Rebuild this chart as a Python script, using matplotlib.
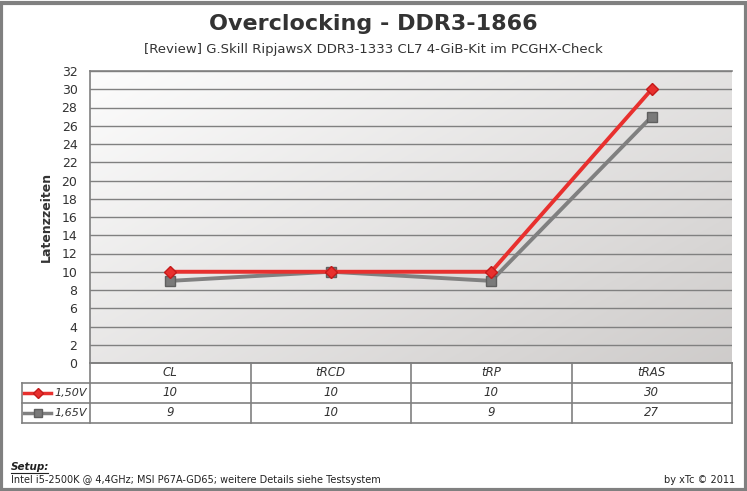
import matplotlib
matplotlib.use('Agg')
import matplotlib.pyplot as plt
import numpy as np
from matplotlib.lines import Line2D
from matplotlib.patches import Rectangle

categories = ['CL', 'tRCD', 'tRP', 'tRAS']
series_names = ['1,50V', '1,65V']
v150 = [10, 10, 10, 30]
v165 = [9, 10, 9, 27]
yticks = list(range(0, 33, 2))

W, H = 747, 491
fig = plt.figure(figsize=(W / 100, H / 100), dpi=100)
fig.patch.set_facecolor('white')

def fx(px):
    return px / W

def fy(py):
    return 1 - py / H

# outer frame
fig.add_artist(Rectangle((fx(1.5), fy(489.5)), fx(744), (487 / H), transform=fig.transFigure,
                         fill=False, edgecolor='#808080', linewidth=3))

left, right, top, bottom = 90, 732, 71, 363
ax = fig.add_axes([fx(left), fy(bottom), fx(right - left), (bottom - top) / H])

# gradient background (light top-left, darker bottom-right)
xx, yy = np.meshgrid(np.linspace(0, 1, 200), np.linspace(0, 1, 200))
g = 0.55 * xx + 0.45 * yy
c0 = np.array([0.99, 0.99, 0.99])
c1 = np.array([0.81, 0.80, 0.795])
img = c0 + g[..., None] * (c1 - c0)
ax.imshow(img, extent=[0, 4, 0, 32], origin='upper', aspect='auto', zorder=0)

x = np.arange(len(categories)) + 0.5
ax.plot(x, v165, color='#808080', lw=2.8, marker='s', ms=7, mfc='#7a7a7a', mec='#5f5f5f', zorder=3)
ax.plot(x, v150, color='#e8302e', lw=2.8, marker='D', ms=6, mfc='#e8302e', mec='#c41a1a', zorder=4)

ax.set_xlim(0, 4)
ax.set_ylim(0, 32)
ax.set_yticks(yticks)
ax.set_yticklabels([str(t) for t in yticks], fontsize=9, color='#333333')
ax.tick_params(axis='y', length=0, pad=9)
ax.set_xticks([])
ax.grid(axis='y', color='#808080', lw=1.0)
for s in ax.spines.values():
    s.set_color('#808080')
    s.set_linewidth(1.2)
ax.spines['right'].set_visible(False)
ax.set_axisbelow(False)
fig.text(fx(46), fy(217), 'Latenzzeiten', rotation=90, ha='center', va='center',
         fontsize=9, fontweight='bold', color='#333333')

# data table
col_edges = [left + i * (right - left) / len(categories) for i in range(len(categories) + 1)]
row_edges = [363, 383, 403, 423]
lc = '#808080'

def hline(y, x0, x1):
    fig.add_artist(Line2D([fx(x0), fx(x1)], [fy(y), fy(y)], color=lc, lw=1.2))

def vline(xp, y0, y1):
    fig.add_artist(Line2D([fx(xp), fx(xp)], [fy(y0), fy(y1)], color=lc, lw=1.2))

hline(row_edges[0], left, right)
for y in row_edges[1:]:
    hline(y, 22, right)
for xp in col_edges:
    vline(xp, row_edges[0], row_edges[-1])
vline(22, row_edges[1], row_edges[-1])

for i, c in enumerate(categories):
    xc = (col_edges[i] + col_edges[i + 1]) / 2
    fig.text(fx(xc), fy(373), c, ha='center', va='center', fontsize=8.5, style='italic', color='#333333')
    fig.text(fx(xc), fy(393), str(v150[i]), ha='center', va='center', fontsize=8.5, style='italic', color='#333333')
    fig.text(fx(xc), fy(413), str(v165[i]), ha='center', va='center', fontsize=8.5, style='italic', color='#333333')

# legend keys in table
fig.add_artist(Line2D([fx(24), fx(38), fx(51)], [fy(393)] * 3, color='#e8302e', lw=2.5,
                      marker='D', markevery=[1], ms=5, mec='#c41a1a'))
fig.add_artist(Line2D([fx(24), fx(38), fx(51)], [fy(413)] * 3, color='#808080', lw=2.5,
                      marker='s', markevery=[1], ms=6, mfc='#7a7a7a', mec='#5f5f5f'))
for name, yc in zip(series_names, [393, 413]):
    fig.text(fx(54), fy(yc), name, ha='left', va='center', fontsize=8, style='italic', color='#333333')

# titles
fig.text(0.5, fy(24), 'Overclocking - DDR3-1866', ha='center', va='center',
         fontsize=16, fontweight='bold', color='#333333')
fig.text(0.5, fy(49), '[Review] G.Skill RipjawsX DDR3-1333 CL7 4-GiB-Kit im PCGHX-Check',
         ha='center', va='center', fontsize=9.5, color='#333333')

# footer
fig.text(fx(11), fy(467), 'Setup:', ha='left', va='center', fontsize=7.5, fontweight='bold',
         style='italic', color='#222222')
fig.add_artist(Line2D([fx(11), fx(48)], [fy(473), fy(473)], color='#222222', lw=0.8))
fig.text(fx(11), fy(480), 'Intel i5-2500K @ 4,4GHz; MSI P67A-GD65; weitere Details siehe Testsystem',
         ha='left', va='center', fontsize=7, color='#222222')
fig.text(fx(735), fy(480), 'by xTc © 2011', ha='right', va='center', fontsize=7, color='#222222')

fig.savefig('out.png', dpi=100)
